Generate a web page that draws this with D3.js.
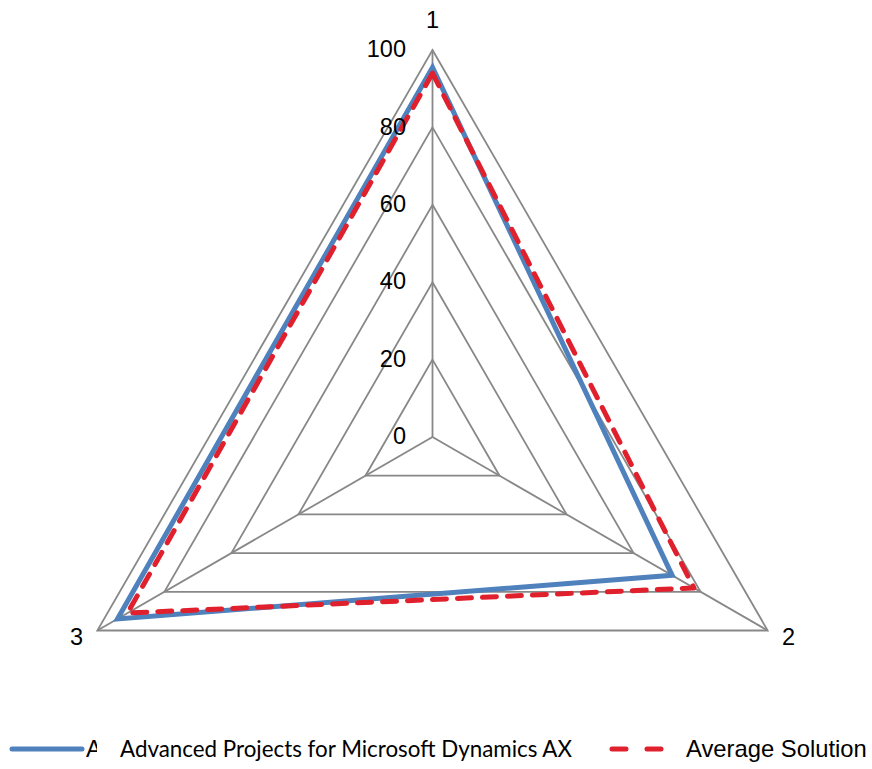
<!DOCTYPE html>
<html><head><meta charset="utf-8">
<script src="https://cdn.jsdelivr.net/npm/d3@7"></script>
<style>body{margin:0;background:#fff;}svg{display:block;}</style>
</head><body>
<svg id="chart" width="872" height="769"></svg>
<script>
const categories = ["1", "2", "3"];
const seriesNames = ["Advanced Projects for Microsoft Dynamics AX", "Average Solution"];
const advancedValues = [95.5, 71.5, 94];
const averageValues = [94, 78, 91];
const tickValues = [0, 20, 40, 60, 80, 100];

const svg = d3.select("#chart");
const cx = 432.5, cy = 437, R = 387;
const r = d3.scaleLinear().domain([0, 100]).range([0, R]);
const angle = d3.scaleBand().domain(categories).range([0, 2 * Math.PI]).paddingInner(0).paddingOuter(0);
const ang = c => angle(c) - Math.PI / 2;
const pt = (c, v) => [cx + r(v) * Math.cos(ang(c)), cy + r(v) * Math.sin(ang(c))];
const FONT = "Liberation Sans, Arial, sans-serif";

const grid = "#888888";
// grid polygons
tickValues.filter(t => t > 0).forEach(t => {
  svg.append("polygon")
    .attr("points", categories.map(c => pt(c, t).join(",")).join(" "))
    .attr("fill", "none").attr("stroke", grid).attr("stroke-width", 1.8);
});
// spokes
categories.forEach(c => {
  const p = pt(c, 100);
  svg.append("line").attr("x1", cx).attr("y1", cy).attr("x2", p[0]).attr("y2", p[1])
    .attr("stroke", grid).attr("stroke-width", 1.8);
});

const line = d3.lineRadial().angle((d, i) => angle(categories[i])).radius(d => r(d)).curve(d3.curveLinearClosed);
svg.append("path").attr("transform", `translate(${cx},${cy})`)
  .attr("d", line(advancedValues)).attr("fill", "none")
  .attr("stroke", "#4F81BD").attr("stroke-width", 5).attr("stroke-linejoin", "miter");
svg.append("path").attr("transform", `translate(${cx},${cy})`)
  .attr("d", line(averageValues)).attr("fill", "none")
  .attr("stroke", "#E0202C").attr("stroke-width", 5).attr("stroke-dasharray", "14,11")
  .attr("stroke-linecap", "round").attr("stroke-linejoin", "round");

// tick labels (drawn on top)
svg.selectAll(".tick").data(tickValues).enter().append("text")
  .attr("x", 406).attr("y", d => cy - r(d) - 1)
  .attr("dy", "0.35em").attr("text-anchor", "end")
  .attr("font-family", FONT).attr("font-size", 23.5)
  .attr("fill", "#000").text(d => d);
// category labels
categories.forEach(c => {
  const a = ang(c);
  const v = pt(c, 100);
  const x = v[0] + Math.cos(a) * 24;
  const y = v[1] + (Math.sin(a) < 0 ? -30 : 13 * Math.sin(a));
  svg.append("text").attr("x", x).attr("y", y).attr("dy", "0.35em").attr("text-anchor", "middle")
    .attr("font-family", FONT).attr("font-size", 23.5).text(c);
});

// legend
const ly = 749;
svg.append("line").attr("x1", 12).attr("x2", 82).attr("y1", ly).attr("y2", ly)
  .attr("stroke", "#4F81BD").attr("stroke-width", 5).attr("stroke-linecap", "round");
svg.append("clipPath").attr("id", "clipA").append("rect").attr("x", 80).attr("y", 725).attr("width", 17).attr("height", 40);
svg.append("text").attr("x", 86).attr("y", ly).attr("dy", "0.35em").attr("clip-path", "url(#clipA)")
  .attr("font-family", FONT).attr("font-size", 23.5).text(seriesNames[0].charAt(0));
svg.append("text").attr("x", 120).attr("y", ly).attr("dy", "0.35em")
  .attr("font-family", "Lato, sans-serif").attr("font-size", 23)
  .attr("textLength", 452).attr("lengthAdjust", "spacingAndGlyphs").text(seriesNames[0]);
svg.append("line").attr("x1", 612).attr("x2", 663).attr("y1", ly).attr("y2", ly)
  .attr("stroke", "#E0202C").attr("stroke-width", 5).attr("stroke-dasharray", "14,21")
  .attr("stroke-linecap", "round");
svg.append("text").attr("x", 686).attr("y", ly).attr("dy", "0.35em")
  .attr("font-family", FONT).attr("font-size", 23.8).text(seriesNames[1]);
</script>
</body></html>
